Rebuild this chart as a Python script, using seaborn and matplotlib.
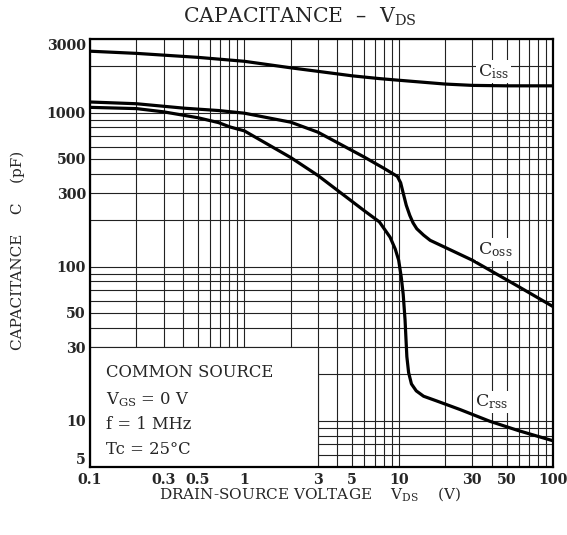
import numpy as np
import pandas as pd
import matplotlib
matplotlib.use("Agg")
import matplotlib.pyplot as plt
from matplotlib.patches import Rectangle
from matplotlib.ticker import FixedLocator, FixedFormatter, NullFormatter
import seaborn as sns

# ---- data ----
ciss_v = [0.1, 0.2, 0.5, 1, 2, 3, 5, 7.5, 10, 20, 30, 50, 100]
ciss_c = [2500, 2420, 2280, 2150, 1950, 1850, 1730, 1660, 1620, 1530, 1500, 1490, 1490]

coss_v = [0.1, 0.2, 0.41, 0.68, 1, 2, 3, 6, 8, 9.8, 10.3, 10.7, 11.2, 11.8, 12.4, 13.1, 14.5, 16, 30, 60, 100]
coss_c = [1170, 1140, 1066, 1030, 990, 865, 745, 513, 435, 385, 350, 300, 250, 215, 192, 176, 160, 148, 110, 74, 55]

crss_v = [0.1, 0.2, 0.3, 0.41, 0.5, 0.68, 0.81, 1, 2, 3, 6, 7.5, 8.8, 9.5, 10, 10.4, 10.7, 11.0, 11.15, 11.3, 11.6, 12.1, 13, 14.5, 17.7, 25, 39, 60, 100]
crss_c = [1080, 1060, 1010, 957, 925, 860, 805, 760, 510, 390, 230, 195, 155, 130, 110, 85, 66, 45, 34, 26, 20.5, 17.3, 15.6, 14.4, 13.4, 11.8, 9.9, 8.6, 7.4]

x_major = [0.1, 0.3, 0.5, 1, 3, 5, 10, 30, 50, 100]
x_major_lbl = ["0.1", "0.3", "0.5", "1", "3", "5", "10", "30", "50", "100"]
x_minor = [0.2, 0.4, 0.6, 0.7, 0.8, 0.9, 2, 4, 6, 7, 8, 9, 20, 40, 60, 70, 80, 90]
y_major = [5, 10, 30, 50, 100, 300, 500, 1000, 3000]
y_major_lbl = ["5", "10", "30", "50", "100", "300", "500", "1000", "3000"]
y_minor = [6, 7, 8, 9, 20, 40, 60, 70, 80, 90, 200, 400, 600, 700, 800, 900, 2000]

sns.set_theme(style="white")
plt.rcParams['font.family'] = ['DejaVu Serif']
plt.rcParams['mathtext.fontset'] = 'dejavuserif'

fig = plt.figure(figsize=(5.67, 5.35), dpi=100)
ax = fig.add_axes([90/567, 1-467/535, 463/567, 428/535])
ax.set_xscale('log')
ax.set_yscale('log')
ax.set_xlim(0.1, 100)
ax.set_ylim(5, 3000)

ax.xaxis.set_major_locator(FixedLocator(x_major))
ax.xaxis.set_major_formatter(FixedFormatter(x_major_lbl))
ax.xaxis.set_minor_locator(FixedLocator(x_minor))
ax.xaxis.set_minor_formatter(NullFormatter())
ax.yaxis.set_major_locator(FixedLocator(y_major))
ax.yaxis.set_major_formatter(FixedFormatter(y_major_lbl))
ax.yaxis.set_minor_locator(FixedLocator(y_minor))
ax.yaxis.set_minor_formatter(NullFormatter())
ax.tick_params(which='both', length=0)
ax.tick_params(axis='y', pad=3)
ax.tick_params(axis='x', pad=4)
for lbl in ax.get_xticklabels() + ax.get_yticklabels():
    lbl.set_fontsize(10.3)
    lbl.set_fontweight('bold')
ylbls = ax.get_yticklabels()
ylbls[0].set_va('bottom')
ylbls[-1].set_va('top')
ax.grid(True, which='both', color='#222222', linewidth=0.8, zorder=0)
ax.set_axisbelow(True)
for s in ax.spines.values():
    s.set_color('black')
    s.set_linewidth(1.6)
    s.set_zorder(5)

# text box masking the grid
ax.add_patch(Rectangle((0.1, 5), 3 - 0.1, 30 - 5, facecolor='white',
                       edgecolor='#222222', linewidth=0.8, zorder=1.5))

lw = 2.3
sns.lineplot(x=ciss_v, y=ciss_c, ax=ax, color='black', linewidth=lw, zorder=3)
sns.lineplot(x=coss_v, y=coss_c, ax=ax, color='black', linewidth=lw, zorder=3)
sns.lineplot(x=crss_v, y=crss_c, ax=ax, color='black', linewidth=lw, zorder=3)

bb = dict(facecolor='white', edgecolor='none', pad=1.5)
ax.text(41, 1845, r"C$_\mathrm{iss}$", fontsize=12.5, ha='center', va='center', bbox=bb, zorder=4)
ax.text(42, 129, r"C$_\mathrm{oss}$", fontsize=12.5, ha='center', va='center', bbox=bb, zorder=4)
ax.text(40, 13.2, r"C$_\mathrm{rss}$", fontsize=12.5, ha='center', va='center', bbox=bb, zorder=4)

tx = 0.035
fs_box = 11.8
ax.text(tx, 0.22, "COMMON SOURCE", transform=ax.transAxes, fontsize=fs_box, va='center', zorder=4)
ax.text(tx, 0.158, r"V$_\mathrm{GS}$ = 0 V", transform=ax.transAxes, fontsize=fs_box, va='center', zorder=4)
ax.text(tx, 0.100, "f = 1 MHz", transform=ax.transAxes, fontsize=fs_box, va='center', zorder=4)
ax.text(tx, 0.042, "Tc = 25°C", transform=ax.transAxes, fontsize=fs_box, va='center', zorder=4)

fig.text(300/567, 1-17/535, r"CAPACITANCE  –  V$_\mathrm{DS}$", fontsize=14.8, ha='center', va='center')
fig.text(18/567, 1-250/535, "CAPACITANCE    C    (pF)", fontsize=11, rotation=90, ha='center', va='center')
fig.text(310/567, 1-494/535, r"DRAIN-SOURCE VOLTAGE    V$_\mathrm{DS}$    (V)", fontsize=11, ha='center', va='center')

ax.set_xlabel("")
ax.set_ylabel("")
fig.savefig("out.png", dpi=100, facecolor='white')
